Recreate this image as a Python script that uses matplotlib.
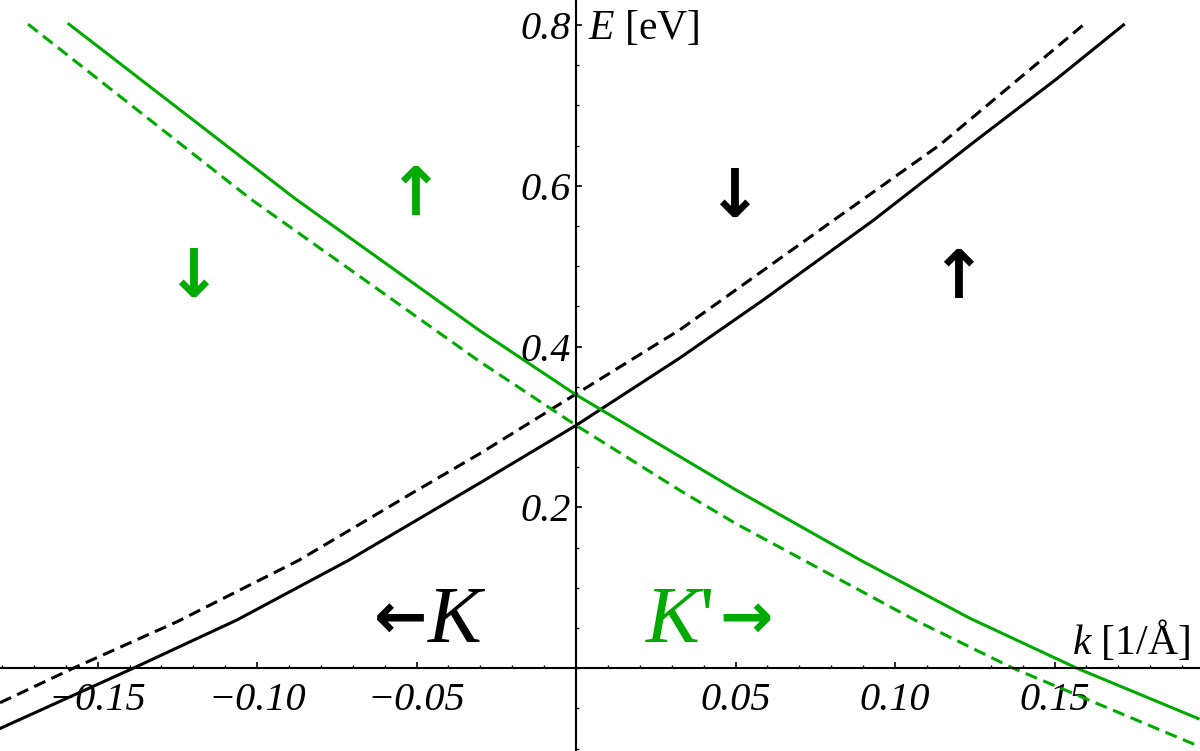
'''
Spin-split bands near K and K' valleys
'''

import numpy as np
import matplotlib.pyplot as plt
from matplotlib.ticker import MultipleLocator

# ═══ Data ════════════════════════════════════════════════════════════════

# K valley, solid (spin up)
k_K_up = [-0.1806, -0.1388, -0.1063, -0.0714, -0.0301, 0.0, 0.0326, 0.0587, 0.0932, 0.1256, 0.1507, 0.1716]
E_K_up = [-0.075, 0.0, 0.060, 0.134, 0.2305, 0.302, 0.386, 0.458, 0.557, 0.657, 0.733, 0.800]

# K valley, dashed (spin down)
k_K_dn = [-0.1806, -0.1576, -0.1252, -0.087, -0.05, -0.0301, 0.0, 0.0326, 0.0807, 0.1141, 0.159]
E_K_dn = [-0.043, 0.0, 0.0576, 0.134, 0.221, 0.267, 0.341, 0.421, 0.557, 0.651, 0.800]

# K' valley, solid
k_Kp_up = [-0.159, -0.0881, -0.0301, 0.0, 0.0326, 0.05, 0.0893, 0.1235, 0.157, 0.195]
E_Kp_up = [0.801, 0.584, 0.4195, 0.340, 0.263, 0.222, 0.134, 0.062, 0.0, -0.0626]

# K' valley, dashed
k_Kp_dn = [-0.1718, -0.1022, -0.0301, 0.0, 0.0326, 0.05, 0.1063, 0.137, 0.1946]
E_Kp_dn = [0.801, 0.584, 0.381, 0.302, 0.221, 0.180, 0.0597, 0.0, -0.096]

x_ticks = [-0.15, -0.10, -0.05, 0.05, 0.10, 0.15]
x_labels = ['\u22120.15', '\u22120.10', '\u22120.05', '0.05', '0.10', '0.15']
y_ticks = [0.2, 0.4, 0.6, 0.8]
y_labels = ['0.2', '0.4', '0.6', '0.8']

# ═══ Figure ═══════════════════════════════════════════════════════════════

plt.rcParams['font.family'] = ['Liberation Serif', 'DejaVu Serif']
plt.rcParams['mathtext.fontset'] = 'custom'
plt.rcParams['mathtext.it'] = 'Liberation Serif:italic'
plt.rcParams['mathtext.rm'] = 'Liberation Serif'

green = '#00aa00'

fig = plt.figure(figsize=(12, 7.51), dpi=100)
ax = fig.add_axes([0, 0, 1, 1])

ax.plot(k_K_up, E_K_up, color='k', lw=2.2)
ax.plot(k_K_dn, E_K_dn, color='k', lw=2.2, dashes=(4, 2.2))
ax.plot(k_Kp_up, E_Kp_up, color=green, lw=2.2)
ax.plot(k_Kp_dn, E_Kp_dn, color=green, lw=2.2, dashes=(4, 2.2))

# ─── Axes through the origin ──────────────────────────────────────────────

ax.set_xlim(-0.1806, 0.1956)
ax.set_ylim(-0.103, 0.831)

for s in ['top', 'right']:
  ax.spines[s].set_visible(False)
ax.spines['left'].set_position(('data', 0))
ax.spines['bottom'].set_position(('data', 0))
ax.spines['left'].set_linewidth(1.5)
ax.spines['bottom'].set_linewidth(1.5)

ax.set_xticks(x_ticks)
ax.set_xticklabels(x_labels)
ax.set_yticks(y_ticks)
ax.set_yticklabels(y_labels)
ax.xaxis.set_minor_locator(MultipleLocator(0.01))
ax.yaxis.set_minor_locator(MultipleLocator(0.05))

ax.tick_params(which='major', direction='in', length=4, width=1.2, labelsize=29)
ax.tick_params(which='minor', direction='in', length=2.5, width=1)
ax.tick_params(axis='x', pad=10)
ax.tick_params(axis='y', pad=4)
for lab in ax.get_xticklabels() + ax.get_yticklabels():
  lab.set_fontstyle('italic')

# ─── Labels ───────────────────────────────────────────────────────────────

ax.text(0.0038, 0.795, '$E$ [eV]', fontsize=30, ha='left', va='center')
ax.text(0.1555, 0.034, '$k$ [1/Å]', fontsize=30, ha='left', va='center')

arrow_font = dict(family=['DejaVu Sans'], weight='bold', fontsize=48, ha='center', va='center')
ax.text(-0.120, 0.485, '\u2193', color=green, **arrow_font)
ax.text(-0.0505, 0.587, '\u2191', color=green, **arrow_font)
ax.text(0.0495, 0.585, '\u2193', color='k', **arrow_font)
ax.text(0.1197, 0.484, '\u2191', color='k', **arrow_font)

ax.text(-0.0465, 0.060, '\u2190', color='k', ha='right', va='center',
        family=['DejaVu Sans'], weight='bold', fontsize=46)
ax.text(-0.0468, 0.057, '$K$', color='k', ha='left', va='center', fontsize=58)

ax.text(0.0215, 0.057, "$K$'", color=green, ha='left', va='center', fontsize=58)
ax.text(0.0450, 0.060, '\u2192', color=green, ha='left', va='center',
        family=['DejaVu Sans'], weight='bold', fontsize=46)

fig.savefig('out.png', dpi=100)
